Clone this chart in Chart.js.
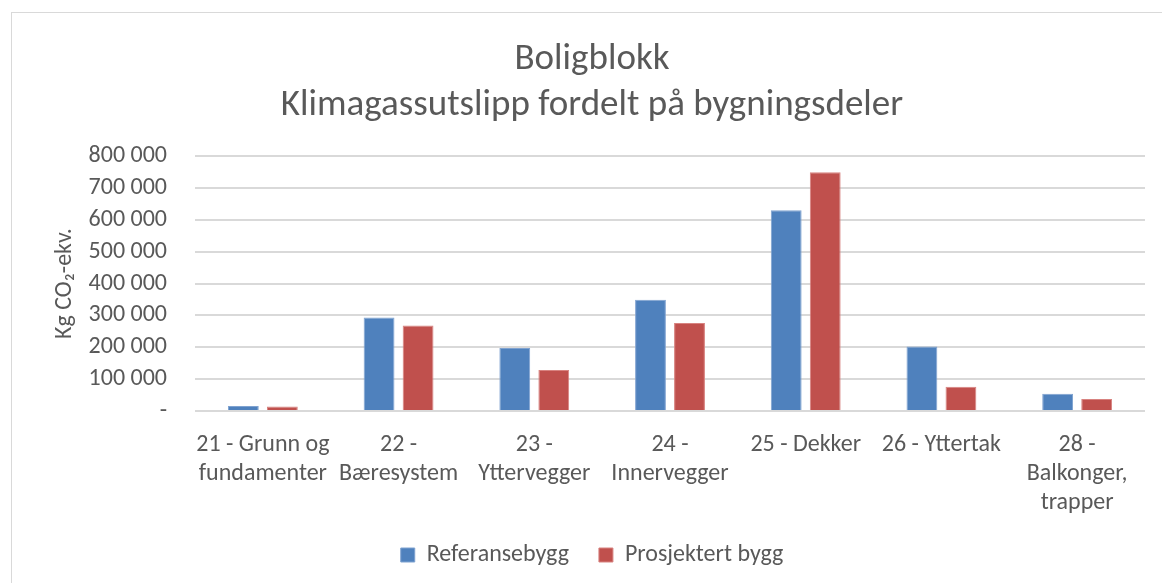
<!DOCTYPE html>
<html>
<head>
<meta charset="utf-8">
<script src="https://cdn.jsdelivr.net/npm/chart.js@4"></script>
<style>
  html,body{margin:0;padding:0;background:#fff;}
  #wrap{position:relative;width:1162px;height:583px;overflow:hidden;}
  #frame{position:absolute;left:11px;top:12px;width:1170px;height:590px;border:1px solid #d9d9d9;box-sizing:border-box;}
  canvas{position:absolute;left:0;top:0;}
</style>
</head>
<body>
<div id="wrap">
  <div id="frame"></div>
  <canvas id="c" width="1162" height="583"></canvas>
</div>
<script>
const categories = [
  ['21 - Grunn og','fundamenter'],
  ['22 -','Bæresystem'],
  ['23 -','Yttervegger'],
  ['24 -','Innervegger'],
  '25 - Dekker',
  '26 - Yttertak',
  ['28 -','Balkonger,','trapper']
];
const referanse = [16000, 293000, 198000, 349000, 630000, 202000, 54000];
const prosjektert = [14000, 268000, 129000, 276000, 749000, 76000, 38000];
const seriesNames = ['Referansebygg', 'Prosjektert bygg'];
const titleLines = ['Boligblokk', 'Klimagassutslipp fordelt på bygningsdeler'];
const yTitle = 'Kg CO₂-ekv.';

const FONT = 'Carlito, Calibri, "Liberation Sans Narrow", "Open Sans", sans-serif';
const TXT = '#595959';

function fmt(v){
  if(v === 0) return '-';
  return String(v).replace(/\B(?=(\d{3})+(?!\d))/g, ' ');
}

const ctx = document.getElementById('c').getContext('2d');
new Chart(ctx, {
  type: 'bar',
  data: {
    labels: categories,
    datasets: [
      { label: seriesNames[0], data: referanse, backgroundColor: '#4F81BD', borderColor: '#7FA2D0', borderWidth: 1 },
      { label: seriesNames[1], data: prosjektert, backgroundColor: '#C0504D', borderColor: '#D88380', borderWidth: 1 }
    ]
  },
  options: {
    responsive: false,
    animation: false,
    layout: { padding: { left: 25, right: 3, top: 0, bottom: 6 } },
    datasets: { bar: { categoryPercentage: 0.575, barPercentage: 0.79 } },
    scales: {
      x: {
        grid: { display: false },
        border: { display: false },
        ticks: { color: TXT, font: { family: FONT, size: 24, lineHeight: 1.22 }, padding: 11, maxRotation: 0, autoSkip: false },
        afterFit: s => { s.height = 102; }
      },
      y: {
        min: 0, max: 800000,
        ticks: { stepSize: 100000, autoSkip: false, color: TXT, font: { family: FONT, size: 24 }, padding: 28, callback: v => fmt(v) },
        grid: { color: '#d9d9d9', lineWidth: 2, drawTicks: false },
        border: { display: false },
        title: { display: true, text: yTitle, color: TXT, font: { family: FONT, size: 24 }, padding: { top: 26, bottom: 0 } },
        afterFit: s => { s.width = 170; }
      },
      // empty spacer on the right so the title/legend centre over the frame
      yRight: {
        type: 'linear', position: 'right', min: 0, max: 1,
        grid: { display: false }, border: { display: false },
        ticks: { display: false },
        afterFit: s => { s.width = 14; }
      }
    },
    plugins: {
      title: {
        display: true, text: titleLines, color: TXT,
        font: { family: FONT, size: 37, weight: 'normal', lineHeight: 1.23 },
        padding: { top: 37, bottom: 28 }
      },
      legend: {
        position: 'bottom',
        labels: { color: TXT, font: { family: FONT, size: 24 }, boxWidth: 14, boxHeight: 14, padding: 30 }
      },
      tooltip: { enabled: false }
    }
  }
});
</script>
</body>
</html>
